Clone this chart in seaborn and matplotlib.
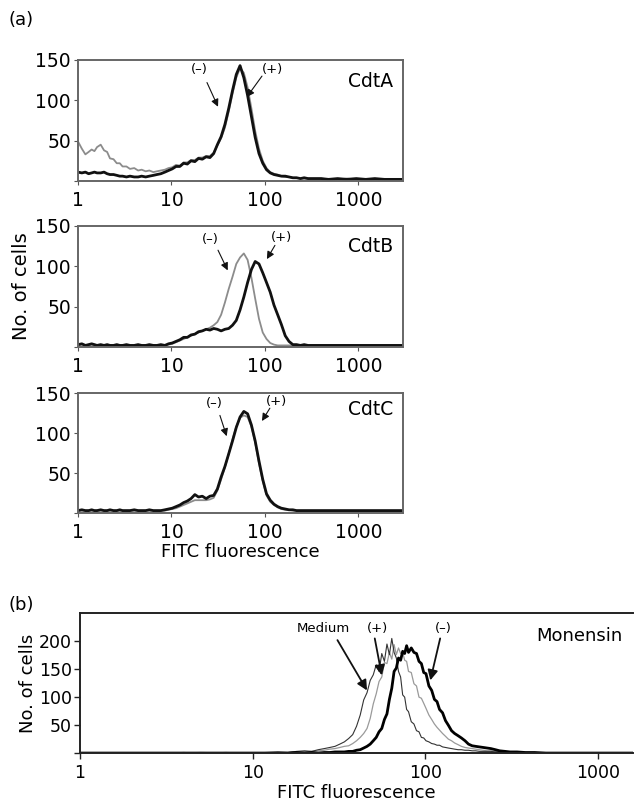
import numpy as np
import pandas as pd
import matplotlib
matplotlib.use("Agg")
import matplotlib.pyplot as plt
from matplotlib.ticker import NullLocator
import seaborn as sns

# ---- panel (a) data: fluorescence channel vs cell count ----
a_x = [1.0, 1.1, 1.2, 1.3, 1.4, 1.5, 1.6,
       1.75, 1.9, 2.05, 2.2, 2.4, 2.6, 2.8, 3.0,
       3.3, 3.6, 4.0, 4.4, 4.8, 5.3, 5.8, 6.4, 7.0, 7.7, 8.5, 9.3,
       10.2, 11.2, 12.3, 13.5, 14.8, 16.2, 17.8, 19.5, 21.4, 23.5, 25.8, 28.3,
       31, 34, 37.3, 41, 45, 49.4, 54.2, 59.5, 65.3, 71.7, 78.7, 86.4, 94.8,
       104, 114, 125, 137, 150, 165, 181, 199, 218, 240, 263, 289, 317, 348,
       400, 480, 600, 750, 950, 1200, 1500, 1900, 2400, 3000]

cdta_plus = [11, 10, 11, 9, 10, 11, 10,
             10, 11, 9, 8, 8, 7, 6, 6,
             5, 6, 5, 5, 6, 5, 6, 7, 8, 9, 11, 13,
             15, 18, 18, 22, 21, 25, 24, 28, 27, 30, 29, 34,
             45, 55, 70, 90, 112, 132, 143, 128, 106, 80, 54, 34, 22,
             14, 10, 8, 7, 6, 6, 5, 4, 4, 3, 4, 3, 3, 3,
             3, 2, 3, 2, 3, 2, 3, 2, 2, 2]
cdta_minus = [49, 40, 33, 36, 39, 37, 42,
              45, 38, 36, 28, 27, 22, 22, 18,
              18, 15, 16, 13, 14, 12, 13, 11, 12, 13, 14, 16,
              17, 20, 19, 23, 23, 26, 26, 29, 29, 31, 31, 35,
              44, 53, 66, 86, 108, 128, 140, 134, 116, 90, 62, 40, 25,
              16, 11, 9, 8, 6, 5, 5, 4, 4, 3, 3, 3, 3, 3,
              3, 2, 2, 3, 2, 2, 2, 2, 2, 2]

cdtb_plus = [3, 4, 2, 3, 4, 3, 2,
             3, 2, 3, 2, 2, 3, 2, 2,
             3, 2, 2, 3, 2, 2, 3, 2, 2, 3, 2, 4,
             5, 7, 9, 12, 12, 15, 16, 19, 20, 22, 21, 23,
             22, 20, 22, 23, 27, 33, 46, 62, 80, 96, 106, 103, 92,
             80, 68, 52, 40, 28, 14, 7, 3, 3, 2, 3, 2, 2, 2,
             2, 2, 2, 2, 2, 2, 2, 2, 2, 2]
cdtb_minus = [2, 3, 2, 2, 3, 2, 2,
              2, 2, 2, 2, 2, 2, 2, 2,
              2, 2, 2, 2, 2, 2, 2, 2, 2, 2, 2, 3,
              4, 6, 8, 10, 12, 14, 16, 18, 20, 22, 24, 27,
              31, 40, 55, 72, 87, 103, 111, 116, 108, 86, 60, 35, 18,
              10, 5, 3, 2, 2, 2, 2, 2, 2, 2, 2, 2, 2, 2,
              2, 2, 2, 2, 2, 2, 2, 2, 2, 2]

cdtc_plus = [3, 4, 3, 3, 4, 3, 3,
             4, 3, 3, 4, 3, 3, 4, 3,
             3, 3, 4, 3, 3, 3, 4, 3, 3, 3, 4, 5,
             6, 8, 10, 13, 15, 18, 23, 20, 21, 18, 21, 22,
             30, 45, 58, 74, 90, 107, 120, 127, 124, 110, 90, 65, 42,
             24, 16, 11, 8, 6, 5, 4, 4, 3, 3, 3, 3, 3, 3,
             3, 3, 3, 3, 3, 3, 3, 3, 3, 3]
cdtc_minus = [3, 3, 3, 3, 3, 3, 3,
              3, 3, 3, 3, 3, 3, 3, 3,
              3, 3, 3, 3, 3, 3, 3, 3, 3, 3, 3, 4,
              5, 6, 8, 10, 12, 14, 16, 16, 16, 16, 17, 19,
              28, 42, 57, 74, 92, 108, 119, 122, 120, 108, 88, 62, 40,
              22, 14, 10, 7, 5, 4, 4, 3, 3, 3, 3, 3, 3, 3,
              3, 3, 3, 3, 3, 3, 3, 3, 3, 3]

# ---- panel (b) data ----
b_x = [1, 1.5, 2, 3, 4, 5, 7, 10,
       12, 14, 16, 18, 20, 22, 24, 26, 28, 30,
       32, 34, 36, 38, 40, 42, 44, 46, 48, 50,
       52, 54, 56, 58, 60, 62, 64, 66, 68, 70,
       72, 74, 76, 78, 80, 83, 86, 89, 92, 95,
       98, 101, 105, 109, 113, 117, 121, 126, 131, 136,
       142, 148, 155, 162, 170, 178, 187, 196, 206, 217,
       228, 240, 255, 270, 290, 310, 340, 380, 430, 500,
       600, 800, 1000, 1300, 1600]

medium = [0, 0, 0, 0, 1, 0, 1, 0,
          1, 2, 1, 3, 4, 3, 6, 8, 10, 12,
          16, 20, 26, 33, 48, 68, 95, 108, 130, 140,
          158, 146, 178, 164, 195, 176, 205, 180, 170, 146,
          136, 104, 100, 78, 74, 56, 52, 40, 38, 28,
          27, 22, 20, 17, 16, 14, 14, 11, 10, 9,
          8, 7, 6, 6, 5, 5, 4, 4, 3, 3,
          3, 3, 2, 2, 2, 1, 1, 1, 0, 0,
          0, 0, 0, 0, 0]
mon_plus = [0, 0, 0, 0, 0, 1, 0, 0,
            0, 1, 1, 2, 2, 3, 4, 5, 7, 8,
            10, 12, 13, 17, 22, 28, 35, 44, 62, 88,
            106, 128, 136, 162, 160, 180, 168, 194, 176, 188,
            178, 180, 166, 164, 146, 144, 124, 120, 100, 98,
            89, 80, 68, 60, 52, 46, 41, 35, 30, 25,
            22, 18, 15, 12, 10, 9, 8, 7, 6, 5,
            4, 4, 3, 3, 3, 2, 2, 1, 1, 0,
            0, 0, 0, 0, 0]
mon_minus = [0, 0, 0, 0, 0, 0, 0, 0,
             0, 0, 0, 1, 0, 1, 0, 1, 1, 2,
             2, 2, 3, 3, 5, 6, 9, 12, 16, 22,
             28, 38, 44, 60, 70, 96, 116, 146, 152, 170,
             166, 182, 178, 192, 180, 188, 180, 178, 164, 160,
             144, 142, 120, 112, 96, 92, 78, 72, 58, 50,
             40, 35, 31, 27, 22, 16, 13, 12, 11, 10,
             9, 8, 6, 4, 3, 2, 2, 1, 1, 0,
             0, 0, 0, 0, 0]

a_names = ["CdtA", "CdtB", "CdtC"]
a_series = [(cdta_minus, cdta_plus), (cdtb_minus, cdtb_plus), (cdtc_minus, cdtc_plus)]
# arrow annotations: (text xy, arrow tail, arrow head) for (-) and (+)
a_arrows = [
    [((20, 138), (24, 122), (31.5, 92)), ((122, 138), (93, 130), (64, 104))],
    [((26, 133), (31.5, 120), (40, 95)), ((152, 136), (128, 126), (105, 109))],
    [((29, 137), (33, 122), (39, 96)), ((134, 140), (113, 131), (93, 115))],
]
a_label_y = [0.82, 0.83, 0.86]

sns.set_style("white")
plt.rcParams["font.family"] = ["DejaVu Sans"]
plt.rcParams["text.color"] = "black"
plt.rcParams["axes.labelcolor"] = "black"

fig = plt.figure(figsize=(6.35, 8.08), dpi=100)

boxes = [[0.1228, 0.776, 0.5118, 0.1498],
         [0.1228, 0.5705, 0.5118, 0.1498],
         [0.1228, 0.3651, 0.5118, 0.1485]]

for i in range(3):
    ax = fig.add_axes(boxes[i])
    minus, plus = a_series[i]
    df = pd.DataFrame({"x": a_x, "minus": minus, "plus": plus})
    sns.lineplot(data=df, x="x", y="minus", ax=ax, color="#8c8c8c", linewidth=1.3, estimator=None)
    sns.lineplot(data=df, x="x", y="plus", ax=ax, color="#111111", linewidth=2.0, estimator=None)
    ax.set_xscale("log")
    ax.set_xlim(1, 3000)
    ax.set_ylim(0, 150)
    ax.set_xticks([1, 10, 100, 1000])
    ax.set_xticklabels(["1", "10", "100", "1000"])
    ax.xaxis.set_minor_locator(NullLocator())
    ax.set_yticks([0, 50, 100, 150])
    ax.set_yticklabels(["", "50", "100", "150"])
    ax.tick_params(axis="both", labelsize=13.5, length=3, width=0.8, color="#555555",
                   labelcolor="black", direction="out", bottom=True, left=True, pad=2)
    ax.tick_params(axis="x", pad=4)
    ax.set_xlabel("")
    ax.set_ylabel("")
    for s in ax.spines.values():
        s.set_color("#666666")
        s.set_linewidth(1.4)
    ax.text(0.97, a_label_y[i], a_names[i], transform=ax.transAxes,
            ha="right", va="center", fontsize=13.5)
    for sign, (txt, tail, head) in zip(["(–)", "(+)"], a_arrows[i]):
        ax.text(txt[0], txt[1], sign, ha="center", va="center", fontsize=9.5)
        ax.annotate("", xy=head, xytext=tail,
                    arrowprops=dict(arrowstyle="-|>", color="#111111", lw=0.8,
                                    mutation_scale=11, shrinkA=0, shrinkB=0))
    if i == 1:
        ax.set_ylabel("No. of cells", fontsize=14, labelpad=3)
    if i == 2:
        ax.set_xlabel("FITC fluorescence", fontsize=13, labelpad=1)

fig.text(0.014, 0.975, "(a)", fontsize=13, ha="left", va="center")
fig.text(0.014, 0.251, "(b)", fontsize=13, ha="left", va="center")

# ---- panel (b) ----
axb = fig.add_axes([0.126, 0.068, 0.871, 0.173])
dfb = pd.DataFrame({"x": b_x, "medium": medium, "plus": mon_plus, "minus": mon_minus})
sns.lineplot(data=dfb, x="x", y="plus", ax=axb, color="#9a9a9a", linewidth=0.9, estimator=None)
sns.lineplot(data=dfb, x="x", y="medium", ax=axb, color="#333333", linewidth=0.8, estimator=None)
sns.lineplot(data=dfb, x="x", y="minus", ax=axb, color="#000000", linewidth=2.0, estimator=None)
axb.set_xscale("log")
axb.set_xlim(1, 1600)
axb.set_ylim(0, 250)
axb.set_xticks([1, 10, 100, 1000])
axb.set_xticklabels(["1", "10", "100", "1000"])
axb.xaxis.set_minor_locator(NullLocator())
axb.set_yticks([0, 50, 100, 150, 200])
axb.set_yticklabels(["", "50", "100", "150", "200"])
axb.tick_params(axis="both", labelsize=12.5, length=4, width=1.0, color="#222222",
                labelcolor="black", direction="out", bottom=True, left=True, pad=2)
axb.tick_params(axis="x", pad=4)
axb.spines["right"].set_visible(False)
for k in ["left", "bottom", "top"]:
    axb.spines[k].set_color("#222222")
    axb.spines[k].set_linewidth(1.4)
axb.set_xlabel("FITC fluorescence", fontsize=13, labelpad=1)
axb.set_ylabel("No. of cells", fontsize=13, labelpad=1)
axb.text(0.98, 0.84, "Monensin", transform=axb.transAxes, ha="right", va="center", fontsize=13)

b_arrows = [("Medium", (25.6, 223), (31, 202), (46, 112)),
            ("(+)", (52.7, 223), (51, 205), (56, 139)),
            ("(–)", (127, 223), (122, 205), (107, 130))]
for lab, txt, tail, head in b_arrows:
    axb.text(txt[0], txt[1], lab, ha="center", va="center", fontsize=9.5)
    axb.annotate("", xy=head, xytext=tail,
                 arrowprops=dict(arrowstyle="-|>", color="#111111", lw=1.3,
                                 mutation_scale=15, shrinkA=0, shrinkB=0))

fig.savefig("out.png", dpi=100)
